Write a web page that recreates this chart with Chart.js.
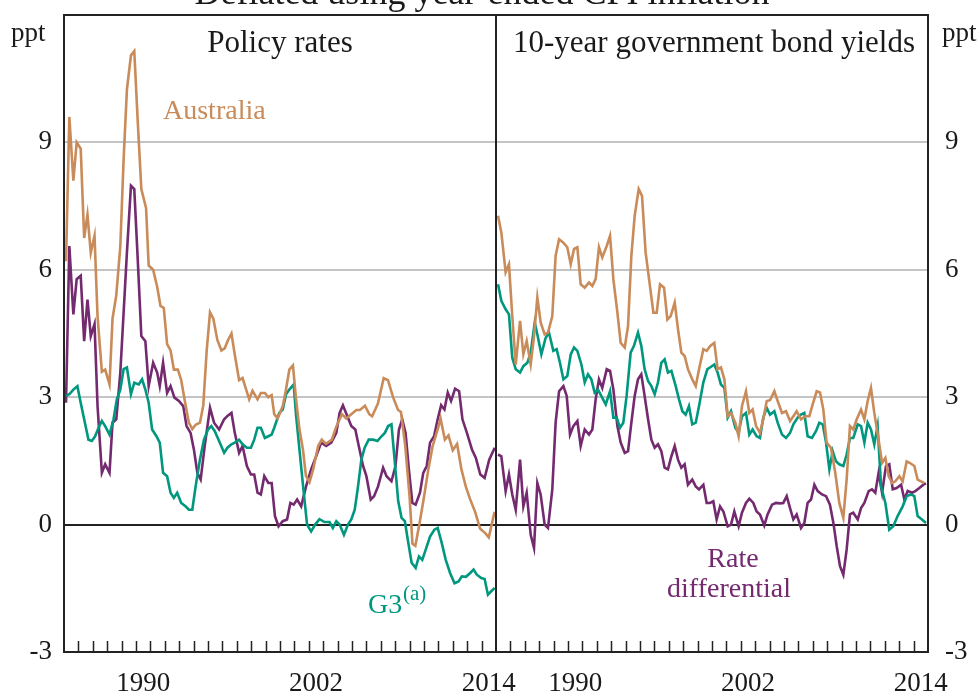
<!DOCTYPE html>
<html>
<head>
<meta charset="utf-8">
<script src="https://cdn.jsdelivr.net/npm/chart.js@4.4.1/dist/chart.umd.min.js"></script>
<style>
  html, body { margin: 0; padding: 0; background: #fff; }
  #chart { display: block; }
</style>
</head>
<body>
<canvas id="chart" width="980" height="693"></canvas>
<script>
// Real interest rates, deflated using year-ended CPI inflation
// each series: [year, ppt]
const ausPolicy = [[1985.14,6.2],[1985.37,9.6],[1985.65,8.1],[1985.88,9.0],[1986.16,8.85],[1986.4,6.75],[1986.63,7.3],[1986.86,6.4],[1987.12,6.8],[1987.33,4.9],[1987.63,3.6],[1987.86,3.65],[1988.16,3.3],[1988.37,4.85],[1988.63,5.4],[1988.91,6.55],[1989.14,8.6],[1989.37,10.25],[1989.65,11.05],[1989.88,11.15],[1990.12,9.5],[1990.37,7.9],[1990.7,7.45],[1990.88,6.1],[1991.19,6.0],[1991.47,5.6],[1991.7,5.15],[1991.93,5.1],[1992.16,4.25],[1992.4,4.1],[1992.63,3.65],[1992.91,3.65],[1993.14,3.4],[1993.37,2.95],[1993.67,2.4],[1993.91,2.25],[1994.14,2.35],[1994.44,2.4],[1994.67,2.8],[1994.91,4.1],[1995.14,5.0],[1995.37,4.85],[1995.65,4.35],[1995.93,4.1],[1996.16,4.15],[1996.4,4.35],[1996.63,4.5],[1996.86,4.0],[1997.16,3.4],[1997.4,3.45],[1997.63,3.2],[1997.86,2.95],[1998.09,3.15],[1998.44,2.95],[1998.67,3.1],[1998.95,3.1],[1999.19,3.0],[1999.42,3.05],[1999.6,2.6],[1999.84,2.5],[2000.2,2.8],[2000.4,3.15],[2000.65,3.65],[2000.9,3.75],[2001.1,3.0],[2001.35,2.25],[2001.6,1.75],[2001.8,1.15],[2002.05,1.0],[2002.3,1.3],[2002.65,1.85],[2002.9,2.0],[2003.2,1.9],[2003.6,2.0],[2003.9,2.3],[2004.3,2.6],[2004.6,2.5],[2004.95,2.6],[2005.3,2.7],[2005.55,2.7],[2005.9,2.8],[2006.2,2.6],[2006.4,2.55],[2006.8,2.85],[2007.2,3.45],[2007.5,3.4],[2007.85,3.0],[2008.2,2.7],[2008.4,2.65],[2008.7,1.85],[2009.0,0.65],[2009.2,-0.45],[2009.4,-0.5],[2009.7,0.05],[2010.0,0.65],[2010.3,1.3],[2010.6,1.85],[2011.0,2.3],[2011.15,2.5],[2011.45,2.0],[2011.7,2.1],[2012.0,1.75],[2012.3,1.9],[2012.6,1.3],[2012.9,0.9],[2013.2,0.6],[2013.55,0.3],[2013.9,-0.1],[2014.25,-0.2],[2014.5,-0.3],[2014.9,0.3]];

const g3Policy = [[1985.14,3.03],[1985.37,3.07],[1985.65,3.18],[1985.93,3.26],[1986.16,2.87],[1986.4,2.48],[1986.7,2.0],[1986.93,1.97],[1987.16,2.08],[1987.4,2.28],[1987.63,2.44],[1987.86,2.32],[1988.16,2.12],[1988.44,2.48],[1988.67,2.95],[1988.91,3.18],[1989.14,3.66],[1989.37,3.7],[1989.65,3.07],[1989.88,3.34],[1990.19,3.3],[1990.42,3.42],[1990.65,3.18],[1990.88,2.87],[1991.12,2.24],[1991.42,2.08],[1991.65,1.93],[1991.88,1.22],[1992.16,1.14],[1992.4,0.75],[1992.63,0.63],[1992.86,0.75],[1993.14,0.51],[1993.44,0.43],[1993.67,0.35],[1993.91,0.35],[1994.14,0.9],[1994.44,1.53],[1994.72,2.0],[1995.0,2.24],[1995.23,2.32],[1995.47,2.2],[1995.77,1.97],[1996.12,1.69],[1996.35,1.81],[1996.63,1.89],[1996.86,1.93],[1997.16,2.0],[1997.4,1.89],[1997.7,1.81],[1997.98,1.81],[1998.21,2.0],[1998.44,2.28],[1998.67,2.28],[1998.95,2.04],[1999.19,2.08],[1999.42,2.12],[1999.6,2.28],[1999.95,2.63],[2000.19,2.71],[2000.42,3.07],[2000.65,3.18],[2000.95,3.3],[2001.12,2.56],[2001.35,1.77],[2001.58,0.98],[2001.88,0.0],[2002.16,-0.16],[2002.44,0.0],[2002.74,0.13],[2003.09,0.06],[2003.44,0.06],[2003.67,-0.08],[2003.91,0.08],[2004.14,0.0],[2004.44,-0.24],[2004.72,0.0],[2004.95,0.12],[2005.19,0.35],[2005.42,0.9],[2005.65,1.53],[2005.88,1.81],[2006.16,2.0],[2006.47,2.0],[2006.77,1.97],[2007.05,2.08],[2007.28,2.16],[2007.51,2.32],[2007.74,2.36],[2007.98,1.45],[2008.21,0.55],[2008.44,0.16],[2008.67,0.08],[2008.91,-0.43],[2009.14,-0.9],[2009.42,-1.02],[2009.65,-0.75],[2009.88,-0.83],[2010.12,-0.59],[2010.42,-0.28],[2010.72,-0.12],[2010.95,-0.08],[2011.23,-0.43],[2011.51,-0.83],[2011.81,-1.14],[2012.12,-1.38],[2012.4,-1.34],[2012.63,-1.22],[2012.91,-1.23],[2013.21,-1.14],[2013.44,-1.06],[2013.67,-1.18],[2013.98,-1.26],[2014.21,-1.28],[2014.44,-1.65],[2014.67,-1.57],[2014.91,-1.49]];

const diffPolicy = [[1985.14,2.87],[1985.37,6.56],[1985.65,4.95],[1985.88,5.78],[1986.16,5.86],[1986.4,4.32],[1986.63,5.3],[1986.86,4.44],[1987.12,4.72],[1987.33,2.79],[1987.63,1.22],[1987.86,1.42],[1988.16,1.22],[1988.37,2.4],[1988.63,2.48],[1988.91,3.58],[1989.14,4.99],[1989.37,6.41],[1989.65,7.98],[1989.88,7.9],[1990.12,6.25],[1990.37,4.44],[1990.65,4.32],[1990.88,3.26],[1991.19,3.81],[1991.47,3.58],[1991.65,3.26],[1991.88,3.81],[1992.16,3.1],[1992.4,3.26],[1992.67,2.99],[1992.98,2.91],[1993.28,2.79],[1993.51,2.32],[1993.79,2.16],[1994.02,1.77],[1994.26,1.22],[1994.49,1.06],[1994.77,1.85],[1995.14,2.75],[1995.42,2.4],[1995.77,2.24],[1996.12,2.48],[1996.35,2.56],[1996.63,2.63],[1996.86,2.16],[1997.16,1.69],[1997.4,1.85],[1997.7,1.38],[1997.98,1.18],[1998.21,1.18],[1998.44,0.75],[1998.67,0.71],[1998.91,1.14],[1999.19,0.98],[1999.42,0.98],[1999.65,0.2],[1999.9,-0.04],[2000.19,0.08],[2000.49,0.12],[2000.72,0.51],[2000.95,0.47],[2001.19,0.59],[2001.47,0.43],[2001.81,0.9],[2002.16,1.3],[2002.51,1.61],[2002.86,1.93],[2003.21,1.85],[2003.56,1.93],[2003.91,2.16],[2004.14,2.63],[2004.37,2.81],[2004.67,2.56],[2004.95,2.32],[2005.23,2.24],[2005.47,1.85],[2005.77,1.38],[2006.0,1.14],[2006.3,0.59],[2006.53,0.67],[2006.81,0.9],[2007.16,1.34],[2007.4,1.14],[2007.74,1.02],[2008.02,1.38],[2008.26,2.24],[2008.49,2.48],[2008.72,2.16],[2008.95,1.3],[2009.19,0.51],[2009.42,0.47],[2009.72,0.75],[2009.95,1.22],[2010.19,1.38],[2010.42,1.93],[2010.7,2.08],[2010.95,2.48],[2011.19,2.81],[2011.42,2.71],[2011.65,3.11],[2011.88,2.91],[2012.16,3.2],[2012.44,3.14],[2012.67,2.48],[2012.98,2.16],[2013.33,1.77],[2013.6,1.57],[2013.91,1.18],[2014.21,1.1],[2014.53,1.53],[2014.91,1.81]];

const ausBond = [[1985.14,7.27],[1985.37,6.88],[1985.67,5.94],[1985.9,6.13],[1986.13,4.91],[1986.37,3.77],[1986.67,4.8],[1986.9,4.01],[1987.13,4.32],[1987.41,3.77],[1987.64,4.44],[1987.87,5.35],[1988.1,4.76],[1988.38,4.48],[1988.61,4.52],[1988.91,4.91],[1989.14,6.33],[1989.38,6.72],[1989.68,6.64],[1989.95,6.53],[1990.19,6.13],[1990.42,6.49],[1990.65,6.53],[1990.88,5.66],[1991.16,5.58],[1991.46,5.7],[1991.69,5.62],[1991.92,5.78],[1992.15,6.53],[1992.38,6.29],[1992.69,6.56],[1992.92,6.8],[1993.15,5.78],[1993.43,4.99],[1993.66,4.28],[1993.94,4.17],[1994.17,4.68],[1994.4,6.33],[1994.63,7.27],[1994.91,7.9],[1995.14,7.74],[1995.39,6.41],[1995.69,5.62],[1995.93,4.99],[1996.16,4.99],[1996.39,5.66],[1996.67,5.58],[1996.9,4.83],[1997.13,4.91],[1997.41,5.23],[1997.64,4.6],[1997.87,4.05],[1998.1,3.97],[1998.33,3.66],[1998.63,3.42],[1998.87,3.26],[1999.1,3.66],[1999.4,4.13],[1999.63,4.09],[1999.86,4.2],[2000.16,4.28],[2000.39,3.66],[2000.62,3.7],[2000.86,3.42],[2001.09,2.55],[2001.32,2.63],[2001.62,2.4],[2001.85,2.08],[2002.08,2.79],[2002.36,3.14],[2002.59,2.63],[2002.82,2.71],[2003.06,2.32],[2003.33,2.16],[2003.56,2.48],[2003.8,2.91],[2004.03,2.93],[2004.33,3.14],[2004.56,2.91],[2004.86,2.63],[2005.14,2.67],[2005.42,2.44],[2005.65,2.55],[2005.88,2.67],[2006.18,2.48],[2006.48,2.55],[2006.76,2.55],[2006.99,2.83],[2007.27,3.14],[2007.5,3.11],[2007.73,2.71],[2007.96,1.93],[2008.26,1.81],[2008.56,1.22],[2008.84,0.51],[2009.12,0.16],[2009.35,1.06],[2009.58,2.32],[2009.81,2.24],[2010.05,2.48],[2010.35,2.71],[2010.58,2.48],[2010.81,2.91],[2011.04,3.22],[2011.27,2.63],[2011.57,2.0],[2011.81,1.45],[2012.04,1.57],[2012.27,1.14],[2012.5,0.98],[2012.73,1.02],[2013.01,1.14],[2013.24,1.02],[2013.52,1.49],[2013.75,1.45],[2014.05,1.38],[2014.28,1.06],[2014.51,1.02],[2014.74,0.98]];

const g3Bond = [[1985.14,5.66],[1985.37,5.27],[1985.67,5.07],[1985.9,4.95],[1986.13,3.93],[1986.37,3.66],[1986.67,3.58],[1986.9,3.73],[1987.18,3.81],[1987.41,4.05],[1987.69,4.76],[1987.92,4.4],[1988.15,4.01],[1988.45,4.4],[1988.68,4.52],[1988.98,4.09],[1989.21,4.13],[1989.44,3.81],[1989.68,3.42],[1989.95,3.5],[1990.19,4.01],[1990.42,4.17],[1990.65,4.09],[1990.93,3.77],[1991.16,3.35],[1991.39,3.54],[1991.62,3.42],[1991.85,3.11],[1992.08,3.18],[1992.31,3.03],[1992.62,2.83],[1992.92,3.14],[1993.15,2.52],[1993.38,2.52],[1993.61,2.28],[1993.84,2.4],[1994.07,3.03],[1994.35,4.05],[1994.58,4.21],[1994.86,4.52],[1995.09,4.21],[1995.32,3.66],[1995.56,3.38],[1995.79,3.26],[1996.02,3.07],[1996.25,3.35],[1996.48,3.81],[1996.71,3.89],[1996.94,3.58],[1997.18,3.62],[1997.48,3.26],[1997.71,2.95],[1997.94,2.67],[1998.17,2.59],[1998.4,2.79],[1998.63,2.36],[1998.87,2.4],[1999.1,2.79],[1999.4,3.35],[1999.68,3.66],[1999.86,3.7],[2000.16,3.77],[2000.39,3.58],[2000.62,3.3],[2000.86,3.22],[2001.09,2.52],[2001.32,2.67],[2001.62,2.28],[2001.85,2.16],[2002.08,2.55],[2002.36,2.63],[2002.59,2.12],[2002.82,2.24],[2003.1,2.08],[2003.33,2.04],[2003.56,2.52],[2003.8,2.75],[2004.03,2.59],[2004.33,2.67],[2004.56,2.4],[2004.86,2.12],[2005.14,2.04],[2005.42,2.16],[2005.65,2.36],[2005.95,2.52],[2006.18,2.59],[2006.41,2.63],[2006.64,2.08],[2006.94,2.04],[2007.22,2.2],[2007.45,2.4],[2007.69,2.36],[2007.92,1.93],[2008.15,1.3],[2008.38,1.73],[2008.61,1.49],[2008.84,1.42],[2009.12,1.38],[2009.35,1.65],[2009.58,2.04],[2009.81,2.04],[2010.12,2.36],[2010.35,2.32],[2010.58,1.93],[2010.81,2.4],[2011.04,2.24],[2011.27,1.89],[2011.5,2.32],[2011.74,0.9],[2012.04,0.51],[2012.31,-0.12],[2012.59,-0.04],[2012.89,0.2],[2013.24,0.43],[2013.52,0.67],[2013.82,0.71],[2014.05,0.67],[2014.28,0.2],[2014.58,0.12],[2014.86,0.04]];

const diffBond = [[1985.14,1.65],[1985.37,1.61],[1985.67,0.79],[1985.9,1.18],[1986.13,0.71],[1986.37,0.35],[1986.67,1.53],[1986.9,0.43],[1987.13,0.75],[1987.41,-0.24],[1987.64,-0.55],[1987.87,0.98],[1988.1,0.71],[1988.38,0.0],[1988.61,-0.08],[1988.91,0.83],[1989.14,2.4],[1989.38,3.14],[1989.68,3.26],[1989.91,3.03],[1990.14,2.12],[1990.37,2.32],[1990.65,2.44],[1990.88,1.85],[1991.16,2.24],[1991.46,2.12],[1991.69,2.24],[1991.92,2.95],[1992.15,3.42],[1992.38,3.22],[1992.69,3.66],[1992.92,3.62],[1993.15,3.18],[1993.43,2.32],[1993.66,1.93],[1993.94,1.69],[1994.17,1.73],[1994.4,2.4],[1994.63,3.03],[1994.86,3.42],[1995.09,3.54],[1995.32,3.03],[1995.56,2.48],[1995.79,2.0],[1996.02,1.81],[1996.25,1.89],[1996.48,1.73],[1996.71,1.34],[1996.94,1.3],[1997.18,1.61],[1997.41,1.85],[1997.64,1.53],[1997.87,1.34],[1998.1,1.42],[1998.33,0.94],[1998.63,1.06],[1998.87,0.9],[1999.1,0.83],[1999.4,0.94],[1999.63,0.51],[1999.86,0.51],[2000.09,0.55],[2000.32,0.12],[2000.56,0.43],[2000.79,0.31],[2001.09,-0.04],[2001.32,0.0],[2001.55,0.31],[2001.85,-0.04],[2002.08,0.28],[2002.36,0.51],[2002.59,0.61],[2002.87,0.51],[2003.1,0.31],[2003.33,0.24],[2003.63,-0.02],[2003.86,0.24],[2004.17,0.47],[2004.44,0.51],[2004.72,0.5],[2004.95,0.51],[2005.19,0.67],[2005.42,0.39],[2005.65,0.12],[2005.88,0.24],[2006.18,-0.08],[2006.41,0.04],[2006.64,0.51],[2006.88,0.59],[2007.11,0.94],[2007.34,0.79],[2007.64,0.71],[2007.92,0.67],[2008.19,0.47],[2008.43,0.04],[2008.66,-0.51],[2008.89,-0.98],[2009.12,-1.18],[2009.35,-0.59],[2009.58,0.24],[2009.81,0.28],[2010.12,0.12],[2010.35,0.39],[2010.58,0.51],[2010.88,0.79],[2011.11,0.83],[2011.34,0.75],[2011.57,1.22],[2011.81,0.75],[2012.08,1.38],[2012.31,1.42],[2012.55,0.83],[2012.82,0.86],[2013.13,0.94],[2013.36,0.59],[2013.59,0.79],[2013.89,0.75],[2014.12,0.79],[2014.4,0.86],[2014.68,0.94],[2014.86,0.97]];

const startYear = 1985;
const panelYears = 30;           // each panel covers 1985-2015
const xTickYears = [1990, 2002, 2014];
const yTicks = [-3, 0, 3, 6, 9];
const panelTitles = ['Policy rates', '10-year government bond yields'];

const COL_AUS = '#C98B59';
const COL_G3 = '#00977F';
const COL_DIFF = '#742A6F';
const SERIF = "'Liberation Serif', 'DejaVu Serif', serif";

// year -> x position on the shared axis (right panel shifted by one panel width)
const toXY = (series, panel) => series.map(([yr, v]) => ({ x: yr - startYear + panel * panelYears, y: v }));

const lineDs = (data, color) => ({
    data: data,
    borderColor: color,
    borderWidth: 2.6,
    pointRadius: 0,
    tension: 0,
    fill: false
});

// label positions: centred in each labelled year, in both panels
const xTickPos = [];
[0, 1].forEach(p => xTickYears.forEach(y => xTickPos.push(y - startYear + 0.5 + p * panelYears)));

const labelFor = v => String(Math.floor(v % panelYears) + startYear);

// frame, panel divider and inward year ticks
const framePlugin = {
    id: 'frame',
    afterDatasetsDraw(chart) {
        const { ctx, chartArea: a, scales: { x } } = chart;
        ctx.save();
        ctx.strokeStyle = '#222';
        ctx.lineWidth = 2;
        ctx.strokeRect(a.left, a.top, a.right - a.left, a.bottom - a.top);
        const mid = x.getPixelForValue(panelYears);
        ctx.beginPath();
        ctx.moveTo(mid, a.top);
        ctx.lineTo(mid, a.bottom);
        ctx.stroke();
        ctx.lineWidth = 1.5;
        ctx.beginPath();
        for (let i = 1; i < panelYears * 2; i++) {
            if (i === panelYears) continue;
            const px = Math.round(x.getPixelForValue(i)) + 0.5;
            ctx.moveTo(px, a.bottom);
            ctx.lineTo(px, a.bottom - 11);
        }
        ctx.stroke();
        ctx.restore();
    }
};

// titles, units and series labels
const textPlugin = {
    id: 'texts',
    afterDraw(chart) {
        const { ctx, chartArea: a, scales: { x } } = chart;
        ctx.save();
        ctx.textBaseline = 'alphabetic';
        ctx.fillStyle = '#1a1a1a';
        ctx.textAlign = 'center';
        ctx.font = '36px ' + SERIF;
        ctx.fillText('Deflated using year-ended CPI inflation', 482, 4);

        ctx.font = '31px ' + SERIF;
        const mid = x.getPixelForValue(panelYears);
        ctx.fillText(panelTitles[0], (a.left + mid) / 2, 52);
        ctx.fillText(panelTitles[1], (mid + a.right) / 2 + 2, 52);

        ctx.font = '27px ' + SERIF;
        ctx.textAlign = 'left';
        ctx.fillText('ppt', 11, 41);
        ctx.fillText('ppt', 942, 41);

        ctx.font = '28px ' + SERIF;
        ctx.fillStyle = COL_AUS;
        ctx.fillText('Australia', 163, 119);

        ctx.fillStyle = COL_G3;
        ctx.fillText('G3', 368, 613);
        ctx.font = '21px ' + SERIF;
        ctx.fillText('(a)', 403, 600);

        ctx.font = '28px ' + SERIF;
        ctx.fillStyle = COL_DIFF;
        ctx.textAlign = 'center';
        ctx.fillText('Rate', 733, 567);
        ctx.fillText('differential', 729, 597);
        ctx.restore();
    }
};

// keep the plot box fixed: no extra room for half-height edge labels
const noEdgePadding = s => { s.paddingTop = 0; s.paddingBottom = 0; };

const yAxisBase = {
    min: -3,
    max: 12,
    border: { display: false },
    afterBuildTicks: s => { s.ticks = yTicks.map(v => ({ value: v })); },
    ticks: {
        color: '#1a1a1a',
        font: { family: SERIF, size: 27 },
        callback: v => (v < 0 ? '-' + Math.abs(v) : String(v))
    }
};

new Chart(document.getElementById('chart'), {
    type: 'line',
    data: {
        datasets: [
            lineDs(toXY(ausPolicy, 0), COL_AUS),
            lineDs(toXY(g3Policy, 0), COL_G3),
            lineDs(toXY(diffPolicy, 0), COL_DIFF),
            lineDs(toXY(ausBond, 1), COL_AUS),
            lineDs(toXY(g3Bond, 1), COL_G3),
            lineDs(toXY(diffBond, 1), COL_DIFF)
        ]
    },
    options: {
        responsive: false,
        animation: false,
        layout: { padding: { top: 15, left: 0, right: 0, bottom: 0 } },
        plugins: { legend: { display: false }, tooltip: { enabled: false } },
        scales: {
            x: {
                type: 'linear',
                min: 0,
                max: panelYears * 2,
                grid: { display: false },
                border: { display: false },
                afterBuildTicks: s => { s.ticks = xTickPos.map(v => ({ value: v })); },
                afterFit: s => { s.height = 41; },
                ticks: {
                    autoSkip: false,
                    maxRotation: 0,
                    padding: 8,
                    color: '#1a1a1a',
                    font: { family: SERIF, size: 27 },
                    callback: v => labelFor(v)
                }
            },
            y: Object.assign({}, yAxisBase, {
                position: 'left',
                afterFit: s => { s.width = 64; noEdgePadding(s); },
                ticks: Object.assign({}, yAxisBase.ticks, { padding: 12 }),
                grid: {
                    drawTicks: false,
                    color: c => (c.tick.value === 0 ? '#222' : (c.tick.value > 0 ? '#c4c4c4' : 'rgba(0,0,0,0)')),
                    lineWidth: 2
                }
            }),
            y2: Object.assign({}, yAxisBase, {
                position: 'right',
                afterFit: s => { s.width = 52; noEdgePadding(s); },
                ticks: Object.assign({}, yAxisBase.ticks, { padding: 9 }),
                grid: { display: false }
            })
        }
    },
    plugins: [framePlugin, textPlugin]
});
</script>
</body>
</html>
